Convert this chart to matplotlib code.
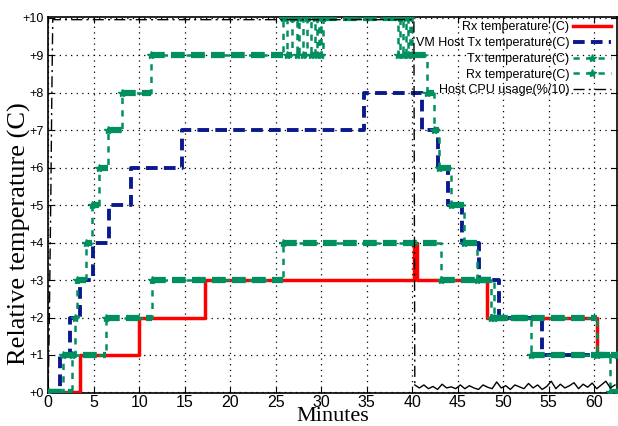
import numpy as np
import matplotlib
matplotlib.use("Agg")
import matplotlib.pyplot as plt

plt.rcParams["font.family"] = ["Liberation Sans", "DejaVu Sans"]

# step breakpoints (minutes, relative temperature)
rx_t = [0, 3.5, 10.0, 17.2, 40.2, 40.5, 48.2, 60.3, 62.5]
rx_v = [0, 1, 2, 3, 4, 3, 2, 1, 1]

vm_t = [0, 1.3, 2.4, 3.5, 4.9, 6.7, 9.1, 14.7, 34.7, 41.1, 42.8, 43.9, 45.5, 47.4, 49.6, 54.3, 62.5]
vm_v = [0, 1, 2, 3, 4, 5, 6, 7, 8, 7, 6, 5, 4, 3, 2, 1, 1]

tx_t = [0, 2.6, 3.0, 3.2, 4.1, 4.8, 5.6, 6.6, 8.1, 11.3, 25.8, 26.3, 26.8, 27.3, 27.6, 28.0,
        28.4, 28.9, 29.3, 29.6, 29.8, 30.0, 30.2, 38.4, 38.7, 39.0, 39.3, 39.6, 39.8, 40.0,
        41.6, 42.4, 43.0, 44.3, 45.7, 47.1, 49.0, 53.1, 62.5]
tx_v = [0, 1, 2, 3, 4, 5, 6, 7, 8, 9, 10, 9, 10, 9, 10, 9,
        10, 9, 10, 9, 10, 9, 10, 9, 10, 9, 10, 9, 10, 9,
        8, 7, 6, 5, 4, 3, 2, 1, 1]

rx2_t = [0, 1.6, 6.4, 11.4, 25.8, 43.2, 48.7, 60.3, 61.8, 62.5]
rx2_v = [0, 1, 2, 3, 4, 3, 2, 1, 0, 0]

cpu_t = [0, 0.1, 0.2, 0.3, 0.4, 0.5, 40.2, 40.3,
         40.8, 41.3, 41.8, 42.3, 42.8, 43.3, 43.8, 44.3, 44.8, 45.3, 45.8, 46.3, 46.8,
         47.3, 47.8, 48.3, 48.8, 49.3, 49.8, 50.3, 50.8, 51.3, 51.8, 52.3, 52.8, 53.3,
         53.8, 54.3, 54.8, 55.3, 55.8, 56.3, 56.8, 57.3, 57.8, 58.3, 58.8, 59.3, 59.8,
         60.3, 60.8, 61.3, 61.8, 62.3]
cpu_v = [0.1, 1.5, 3.5, 5.5, 8.0, 9.95, 9.95, 0.2,
         0.12, 0.2, 0.1, 0.16, 0.08, 0.22, 0.12, 0.15, 0.1, 0.2, 0.1, 0.18, 0.12,
         0.08, 0.2, 0.14, 0.1, 0.28, 0.12, 0.18, 0.08, 0.2, 0.15, 0.1, 0.24, 0.12,
         0.2, 0.08, 0.16, 0.3, 0.1, 0.22, 0.12, 0.18, 0.26, 0.1, 0.22, 0.14, 0.25,
         0.1, 0.2, 0.3, 0.12, 0.2]

x_ticks = list(range(0, 65, 5))
y_ticks = list(range(0, 11))
y_tick_labels = ["+%d" % v for v in y_ticks]

red = "#ff0000"
navy = "#0a1a8c"
green = "#009060"

fig = plt.figure(figsize=(6.18, 4.26), dpi=100)
ax = fig.add_axes([0.078, 0.077, 0.92, 0.883])

ax.plot(rx_t, rx_v, drawstyle="steps-post", color=red, lw=2.5,
        label="Rx temperature (C)", zorder=3)
ax.plot(vm_t, vm_v, drawstyle="steps-post", color=navy, lw=2.8,
        dashes=(3, 1.6), label="VM Host Tx temperature(C)", zorder=4)

for t, v, lab in [(tx_t, tx_v, "Tx temperature(C)"), (rx2_t, rx2_v, "Rx temperature(C)")]:
    ax.plot(t, v, drawstyle="steps-post", color=green, lw=1.8, dashes=(2.5, 2.5),
            marker="*", ms=6, label=lab, zorder=5)
    ax.hlines(v[:-1], t[:-1], t[1:], color=green, lw=4.5,
              linestyles=(0, (2.2, 1.0)), zorder=5)

# ramp and plateau dash-dot, noisy tail drawn solid (dense samples in the original)
ax.plot(cpu_t[:8], cpu_v[:8], color="black", lw=1.0, dashes=(8, 3, 1.5, 3),
        label="Host CPU usage(%/10)", zorder=6)
ax.plot(cpu_t[7:], cpu_v[7:], color="black", lw=1.0, zorder=6)

ax.set_xlim(0, 62.5)
ax.set_ylim(-0.02, 10.02)
ax.set_xticks(x_ticks)
ax.set_yticks(y_ticks)
ax.set_yticklabels(y_tick_labels)
ax.tick_params(axis="x", labelsize=11.5, direction="in", top=True, length=4, pad=1)
ax.tick_params(axis="y", labelsize=9, direction="in", right=True, length=4, pad=3)
ax.grid(True, color="black", lw=0.9, linestyle=(0, (1, 3.5)))
for s in ax.spines.values():
    s.set_linewidth(1.2)

ax.set_xlabel("Minutes", family="Liberation Serif", fontsize=16, va="baseline")
ax.xaxis.set_label_coords(0.5, -0.075)
ax.set_ylabel("Relative temperature (C)", family="Liberation Serif", fontsize=19)
ax.yaxis.set_label_coords(-0.031, 0.425)

ax.legend(loc="upper right", bbox_to_anchor=(1.0, 1.005), frameon=False, markerfirst=False,
          fontsize=9, handlelength=3.0, labelspacing=0.3, handletextpad=0.3,
          borderaxespad=0.1, numpoints=1)

fig.savefig("out.png", dpi=100)
